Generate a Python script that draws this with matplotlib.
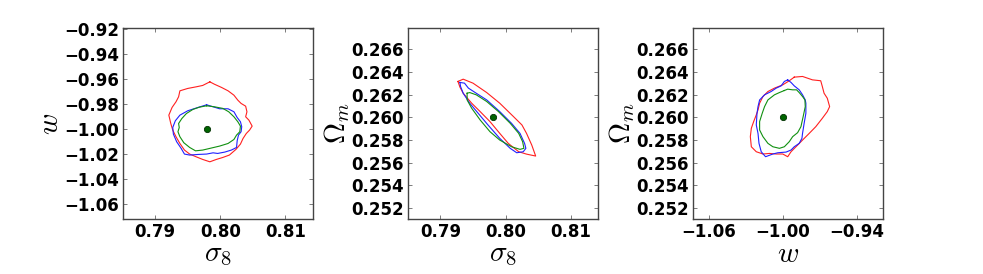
import matplotlib
matplotlib.use("Agg")
import matplotlib.pyplot as plt
import numpy as np

# fiducial point
s8_fid = 0.798
w_fid = -1.00
om_fid = 0.260

# --- sigma_8 vs w contours ---
sw_red_s8 = [0.7984, 0.7991, 0.8002, 0.8012, 0.8021, 0.8027, 0.8032, 0.8039, 0.8041, 0.8039,
             0.8044, 0.8049, 0.8045, 0.8040, 0.8035, 0.8031, 0.8024, 0.8014, 0.8004, 0.7994,
             0.7984, 0.7973, 0.7963, 0.7953, 0.7945, 0.7938, 0.7932, 0.7927, 0.7924, 0.7921,
             0.7926, 0.7932, 0.7936, 0.7938, 0.7950, 0.7963, 0.7973]
sw_red_w = [-0.9621, -0.9640, -0.9666, -0.9693, -0.9728, -0.9768, -0.9794, -0.9816, -0.9861, -0.9901,
            -0.9928, -0.9976, -1.0008, -1.0035, -1.0075, -1.0120, -1.0163, -1.0208, -1.0227, -1.0243,
            -1.0262, -1.0243, -1.0222, -1.0200, -1.0168, -1.0115, -1.0061, -1.0008, -0.9955, -0.9888,
            -0.9826, -0.9781, -0.9741, -0.9693, -0.9674, -0.9661, -0.9650]
sw_blue_s8 = [0.7979, 0.7989, 0.7999, 0.8012, 0.8021, 0.8026, 0.8031, 0.8033, 0.8032, 0.8028,
              0.8026, 0.8025, 0.8017, 0.8007, 0.7996, 0.7989, 0.7979, 0.7966, 0.7953, 0.7945,
              0.7940, 0.7933, 0.7928, 0.7927, 0.7931, 0.7938, 0.7950, 0.7966]
sw_blue_w = [-0.9805, -0.9821, -0.9837, -0.9837, -0.9861, -0.9907, -0.9941, -0.9981, -1.0021, -1.0048,
             -1.0093, -1.0147, -1.0168, -1.0184, -1.0195, -1.0190, -1.0200, -1.0203, -1.0208, -1.0200,
             -1.0155, -1.0101, -1.0040, -0.9987, -0.9933, -0.9888, -0.9853, -0.9826]
sw_green_s8 = [0.7979, 0.7991, 0.8004, 0.8013, 0.8021, 0.8027, 0.8031, 0.8030, 0.8025, 0.8021,
               0.8012, 0.7999, 0.7986, 0.7973, 0.7962, 0.7953, 0.7944, 0.7938, 0.7935, 0.7937,
               0.7936, 0.7941, 0.7948, 0.7958, 0.7968]
sw_green_w = [-0.9813, -0.9821, -0.9834, -0.9861, -0.9901, -0.9941, -0.9976, -1.0021, -1.0048, -1.0083,
              -1.0115, -1.0136, -1.0152, -1.0168, -1.0174, -1.0147, -1.0109, -1.0061, -1.0021, -0.9987,
              -0.9955, -0.9915, -0.9875, -0.9842, -0.9824]

# --- sigma_8 vs Omega_m contours ---
so_red_s8 = [0.7927, 0.7935, 0.7950, 0.7971, 0.7991, 0.8012, 0.8025, 0.8032, 0.8040, 0.8046,
             0.8032, 0.8020, 0.8004, 0.7991, 0.7976, 0.7961, 0.7948, 0.7935, 0.7930]
so_red_om = [0.26316, 0.26336, 0.26301, 0.26218, 0.26124, 0.26006, 0.25932, 0.25858, 0.25755, 0.25658,
             0.25675, 0.25696, 0.25770, 0.25858, 0.25962, 0.26050, 0.26124, 0.26212, 0.26266]
so_blue_s8 = [0.7930, 0.7937, 0.7943, 0.7955, 0.7971, 0.7991, 0.8009, 0.8022, 0.8029, 0.8031,
              0.8027, 0.8017, 0.8007, 0.7991, 0.7973, 0.7958, 0.7945, 0.7935, 0.7931]
so_blue_om = [0.26307, 0.26301, 0.26257, 0.26212, 0.26153, 0.26050, 0.25947, 0.25858, 0.25770, 0.25726,
              0.25696, 0.25687, 0.25726, 0.25814, 0.25932, 0.26035, 0.26124, 0.26212, 0.26271]
so_green_s8 = [0.7941, 0.7945, 0.7955, 0.7971, 0.7989, 0.8007, 0.8020, 0.8026, 0.8028, 0.8022,
               0.8009, 0.7991, 0.7976, 0.7961, 0.7948, 0.7941]
so_green_om = [0.26212, 0.26218, 0.26198, 0.26139, 0.26050, 0.25947, 0.25858, 0.25785, 0.25726, 0.25717,
               0.25740, 0.25799, 0.25873, 0.25976, 0.26080, 0.26153]

# --- w vs Omega_m contours ---
wo_red_w = [-0.9907, -0.9840, -0.9760, -0.9693, -0.9680, -0.9666, -0.9640, -0.9621, -0.9640, -0.9680,
            -0.9733, -0.9786, -0.9840, -0.9893, -0.9933, -0.9960, -1.0000, -1.0053, -1.0107, -1.0160,
            -1.0214, -1.0254, -1.0262, -1.0254, -1.0235, -1.0214, -1.0200, -1.0187, -1.0160, -1.0120,
            -1.0067, -1.0000, -0.9947]
wo_red_om = [0.26354, 0.26360, 0.26330, 0.26322, 0.26271, 0.26212, 0.26168, 0.26094, 0.26050, 0.25991,
             0.25917, 0.25858, 0.25799, 0.25740, 0.25696, 0.25652, 0.25676, 0.25676, 0.25681, 0.25676,
             0.25696, 0.25740, 0.25829, 0.25903, 0.25962, 0.26021, 0.26065, 0.26124, 0.26183, 0.26227,
             0.26257, 0.26286, 0.26322]
wo_blue_w = [-0.9960, -0.9987, -1.0013, -1.0053, -1.0094, -1.0147, -1.0187, -1.0200, -1.0208, -1.0214,
             -1.0200, -1.0192, -1.0174, -1.0139, -1.0080, -1.0040, -0.9973, -0.9933, -0.9907, -0.9867,
             -0.9845, -0.9840, -0.9827, -0.9813, -0.9813, -0.9818, -0.9840, -0.9867, -0.9907, -0.9933]
wo_blue_om = [0.26330, 0.26316, 0.26277, 0.26257, 0.26227, 0.26198, 0.26153, 0.26094, 0.26035, 0.25932,
              0.25858, 0.25770, 0.25696, 0.25652, 0.25676, 0.25687, 0.25693, 0.25711, 0.25740, 0.25770,
              0.25814, 0.25858, 0.25947, 0.26035, 0.26124, 0.26153, 0.26198, 0.26242, 0.26277, 0.26307]
wo_green_w = [-0.9987, -0.9960, -0.9920, -0.9888, -0.9867, -0.9840, -0.9821, -0.9818, -0.9835, -0.9853,
              -0.9880, -0.9920, -0.9947, -0.9987, -1.0027, -1.0080, -1.0120, -1.0160, -1.0187, -1.0187,
              -1.0166, -1.0147, -1.0120, -1.0067, -1.0027]
wo_green_om = [0.26236, 0.26248, 0.26242, 0.26242, 0.26218, 0.26183, 0.26153, 0.26094, 0.26006, 0.25917,
               0.25864, 0.25829, 0.25785, 0.25740, 0.25726, 0.25740, 0.25770, 0.25829, 0.25888, 0.25962,
               0.26035, 0.26094, 0.26153, 0.26198, 0.26218]

s8_ticks = [0.79, 0.80, 0.81]
w_ticks = [-0.92, -0.94, -0.96, -0.98, -1.00, -1.02, -1.04, -1.06]
om_ticks = [0.252, 0.254, 0.256, 0.258, 0.260, 0.262, 0.264, 0.266]
w_xticks = [-1.06, -1.00, -0.94]

s8_lim = (0.7851, 0.8142)
w_lim = (-1.0723, -0.9187)
om_lim = (0.2510, 0.2679)

plt.rcParams['mathtext.fontset'] = 'cm'

fig = plt.figure(figsize=(9.83, 2.74), dpi=100)

panels = [
    ([0.1254, 0.1996, 0.1927, 0.6993],
     [(sw_red_s8, sw_red_w, 'r'), (sw_blue_s8, sw_blue_w, 'b'), (sw_green_s8, sw_green_w, 'g')],
     (s8_fid, w_fid), s8_lim, w_lim, s8_ticks, w_ticks, '%.2f', '%.2f', r'$\sigma_8$', r'$w$'),
    ([0.4154, 0.1996, 0.1933, 0.6993],
     [(so_red_s8, so_red_om, 'r'), (so_blue_s8, so_blue_om, 'b'), (so_green_s8, so_green_om, 'g')],
     (s8_fid, om_fid), s8_lim, om_lim, s8_ticks, om_ticks, '%.2f', '%.3f', r'$\sigma_8$', r'$\Omega_m$'),
    ([0.7053, 0.1996, 0.1933, 0.6993],
     [(wo_red_w, wo_red_om, 'r'), (wo_blue_w, wo_blue_om, 'b'), (wo_green_w, wo_green_om, 'g')],
     (w_fid, om_fid), w_lim, om_lim, w_xticks, om_ticks, '%.2f', '%.3f', r'$w$', r'$\Omega_m$'),
]

colours = {'r': '#ff2020', 'b': '#2020ff', 'g': '#109010'}

for rect, curves, fid, xlim, ylim, xt, yt, xfmt, yfmt, xlab, ylab in panels:
    ax = fig.add_axes(rect)
    for xs, ys, c in curves:
        # close the contour
        xs = np.append(xs, xs[0])
        ys = np.append(ys, ys[0])
        ax.plot(xs, ys, color=colours[c], lw=0.8)
    ax.plot(fid[0], fid[1], 'o', ms=4.5, mfc='#006400', mec='#003000', mew=0.6)
    ax.set_xlim(xlim)
    ax.set_ylim(ylim)
    ax.set_xticks(xt)
    ax.set_yticks(yt)
    ax.set_xticklabels([(xfmt % v).replace('-', '\u2212') for v in xt], fontweight='bold', fontsize=12)
    ax.set_yticklabels([(yfmt % v).replace('-', '\u2212') for v in yt], fontweight='bold', fontsize=12)
    ax.tick_params(direction='in', top=True, right=True, length=3, width=0.6, pad=3, color='#666666')
    for sp in ax.spines.values():
        sp.set_color('#444444')
        sp.set_linewidth(1.0)
    ax.set_xlabel(xlab, fontsize=21, labelpad=-1)
    ax.set_ylabel(ylab, fontsize=21, labelpad=0)

fig.savefig('out.png', dpi=100)
